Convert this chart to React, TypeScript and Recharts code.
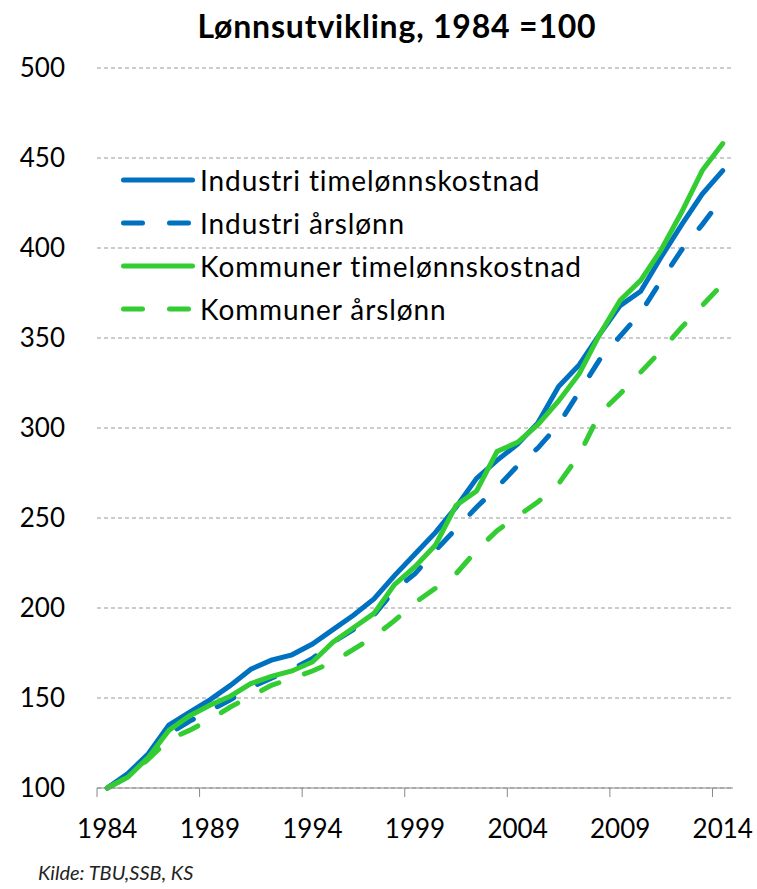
import { LineChart, Line, XAxis, YAxis, CartesianGrid, Legend } from 'recharts';

const years = [
  1984, 1985, 1986, 1987, 1988, 1989, 1990, 1991, 1992, 1993, 1994,
  1995, 1996, 1997, 1998, 1999, 2000, 2001, 2002, 2003, 2004,
  2005, 2006, 2007, 2008, 2009, 2010, 2011, 2012, 2013, 2014,
];

// Industri timelønnskostnad
const industriTime = [
  100, 108, 119, 135, 142, 149, 157, 166, 171, 174, 180,
  188, 196, 205, 218, 230, 242, 256, 272, 282, 291,
  303, 323, 335, 352, 368, 376, 395, 413, 430, 443,
];
// Industri årslønn
const industriAar = [
  100, 107, 118, 130, 137, 143, 149, 156, 161, 166, 172,
  181, 188, 196, 210, 219, 232, 244, 256, 267, 279,
  289, 302, 320, 338, 351, 364, 382, 399, 413, 428,
];
// Kommuner timelønnskostnad
const kommuneTime = [
  100, 106, 117, 132, 140, 146, 151, 158, 162, 165, 170,
  181, 189, 197, 213, 223, 235, 257, 265, 287, 292,
  302, 315, 330, 352, 371, 382, 399, 420, 443, 458,
];
// Kommuner årslønn
const kommuneAar = [
  100, 106, 116, 127, 132, 138, 145, 151, 157, 161, 165,
  170, 177, 184, 193, 203, 211, 219, 232, 243, 251,
  259, 269, 285, 308, 319, 331, 343, 356, 368, 380,
];

const yTicks = [100, 150, 200, 250, 300, 350, 400, 450, 500];
const xTicks = [1984, 1989, 1994, 1999, 2004, 2009, 2014];

const W = 757;
const H = 889;
const MARGIN = { top: 68, right: 24, bottom: 41, left: 0 };
const Y_AXIS_W = 97;
const X_AXIS_H = 60;
const PLOT_W = W - MARGIN.left - MARGIN.right - Y_AXIS_W;
const BAND = PLOT_W / years.length;

const BLUE = '#0070C0';
const GREEN = '#33CC33';
const FONT = 'Lato, "Open Sans", sans-serif';
const DASH = '19 27';

const series = [
  { key: 'industriTime', name: 'Industri timelønnskostnad', color: BLUE, dash: undefined },
  { key: 'industriAar', name: 'Industri årslønn', color: BLUE, dash: DASH },
  { key: 'kommuneTime', name: 'Kommuner timelønnskostnad', color: GREEN, dash: undefined },
  { key: 'kommuneAar', name: 'Kommuner årslønn', color: GREEN, dash: DASH },
];

const data = years.map((year, i) => ({
  year,
  industriTime: industriTime[i],
  industriAar: industriAar[i],
  kommuneTime: kommuneTime[i],
  kommuneAar: kommuneAar[i],
}));

// label in the middle of the year, tick mark at the category boundary (Excel style)
function XTick(props: any) {
  const { x, y, payload } = props;
  const lx = x - BAND / 2;
  return (
    <g>
      <line x1={lx} y1={y} x2={lx} y2={y + 9} stroke="#888" strokeWidth={1} />
      <text x={x} y={y + 50} textAnchor="middle" fontSize={26} fontFamily={FONT} fill="#000">
        {payload.value}
      </text>
    </g>
  );
}

function LegendBox() {
  return (
    <div style={{ fontFamily: FONT, fontSize: 28, letterSpacing: 0.9, color: '#000' }}>
      {series.map((s) => (
        <div key={s.key} style={{ display: 'flex', alignItems: 'center', height: 43 }}>
          <svg width={80} height={10}>
            <line
              x1={7.5}
              y1={5}
              x2={76.5}
              y2={5}
              stroke={s.color}
              strokeWidth={5}
              strokeDasharray={s.dash}
              strokeLinecap="round"
            />
          </svg>
          <span style={{ marginLeft: 4, whiteSpace: 'nowrap' }}>{s.name}</span>
        </div>
      ))}
    </div>
  );
}

export default function App() {
  return (
    <div style={{ position: 'absolute', left: 0, top: 0, width: W, height: H, background: '#fff' }}>
      <div
        style={{
          position: 'absolute',
          left: Y_AXIS_W - 18,
          width: PLOT_W,
          top: 6,
          textAlign: 'center',
          fontFamily: FONT,
          fontWeight: 700,
          fontSize: 32,
          letterSpacing: 0.8,
          color: '#000',
        }}
      >
        Lønnsutvikling, 1984 =100
      </div>
      <LineChart width={W} height={H} data={data} margin={MARGIN}>
        <CartesianGrid vertical={false} stroke="#999" strokeDasharray="4 3" />
        <XAxis
          dataKey="year"
          type="number"
          domain={[1983.5, 2014.5]}
          ticks={xTicks}
          interval={0}
          height={X_AXIS_H}
          tickLine={false}
          tickSize={0}
          tickMargin={0}
          axisLine={{ stroke: '#888' }}
          tick={<XTick />}
        />
        <YAxis
          type="number"
          domain={[100, 500]}
          ticks={yTicks}
          interval={0}
          width={Y_AXIS_W}
          axisLine={false}
          tickLine={false}
          tickMargin={26}
          tick={{ fontSize: 26, fontFamily: FONT, fill: '#000' }}
        />
        <Legend
          layout="vertical"
          align="center"
          verticalAlign="middle"
          content={<LegendBox />}
          wrapperStyle={{ left: 116, top: 158, width: 'auto' }}
        />
        {series.map((s) => (
          <Line
            key={s.key}
            dataKey={s.key}
            name={s.name}
            type="linear"
            stroke={s.color}
            strokeWidth={5}
            strokeDasharray={s.dash}
            strokeLinecap="round"
            dot={false}
            activeDot={false}
            isAnimationActive={false}
          />
        ))}
      </LineChart>
      <div
        style={{
          position: 'absolute',
          left: 38,
          top: 860,
          fontFamily: FONT,
          fontStyle: 'italic',
          fontSize: 20,
          color: '#222',
        }}
      >
        Kilde: TBU,SSB, KS
      </div>
    </div>
  );
}
